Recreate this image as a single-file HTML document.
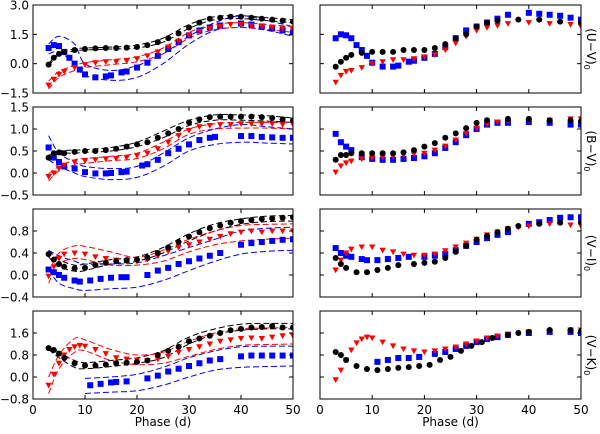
<!DOCTYPE html>
<html><head><meta charset="utf-8"><style>
body{margin:0;background:#fff;width:600px;height:429px;overflow:hidden}
svg text{font-family:"DejaVu Sans","Liberation Sans",sans-serif;font-size:12px;fill:#000}
</style></head><body>
<svg id="fig" width="600" height="429" xmlns="http://www.w3.org/2000/svg"></svg>
<script>
// ---- data ----
const panelNames = ["u-v", "b-v", "v-i", "v-k"];
const yRanges = [[-1.5,3.0],[-0.5,1.5],[-0.4,1.2],[-0.8,2.4]];
const yTicks = [[-1.5,0,1.5,3.0],[-0.5,0,0.5,1.0,1.5],[-0.4,0,0.4,0.8,1.2],[-0.8,0,0.8,1.6,2.4]];
const yTickLabels = [["−1.5","0.0","1.5","3.0"],["−0.5","0.0","0.5","1.0","1.5"],["−0.4","0.0","0.4","0.8",""],["−0.8","0.0","0.8","1.6",""]];
const xTicks = [0,10,20,30,40,50];
const rightLabels = ["(U−V)","(B−V)","(V−I)","(V−K)"];

// left panels: [phase, value]
const L_black = [
 [[3,-0.05],[4,0.3],[5,0.5],[6,0.6],[8,0.7],[10,0.75],[12,0.78],[14,0.8],[16,0.8],[18,0.82],[20,0.85],[22,0.95],[24,1.1],[26,1.3],[28,1.55],[30,1.85],[32,2.1],[34,2.3],[36,2.35],[38,2.4],[40,2.4],[42,2.35],[44,2.3],[46,2.25],[48,2.2],[50,2.15]],
 [[3,0.35],[4,0.45],[5,0.47],[6,0.45],[8,0.48],[10,0.5],[12,0.5],[14,0.52],[16,0.55],[18,0.6],[20,0.65],[22,0.7],[24,0.8],[26,0.9],[28,1.0],[30,1.15],[32,1.22],[34,1.27],[36,1.28],[38,1.28],[40,1.28],[42,1.28],[44,1.27],[46,1.25],[48,1.22],[50,1.2]],
 [[3,0.38],[4,0.28],[5,0.2],[6,0.15],[8,0.12],[10,0.13],[12,0.18],[14,0.22],[16,0.25],[18,0.27],[20,0.28],[22,0.32],[24,0.4],[26,0.5],[28,0.6],[30,0.7],[32,0.78],[34,0.85],[36,0.9],[38,0.95],[40,0.98],[42,1.0],[44,1.02],[46,1.03],[48,1.04],[50,1.05]],
 [[3,1.05],[4,0.98],[5,0.85],[6,0.7],[8,0.5],[10,0.42],[12,0.42],[14,0.45],[16,0.5],[18,0.52],[20,0.55],[22,0.6],[24,0.8],[26,0.95],[28,1.1],[30,1.3],[32,1.4],[34,1.5],[36,1.6],[38,1.7],[40,1.75],[42,1.8],[44,1.82],[46,1.85],[48,1.8],[50,1.8]]
];
const L_blue = [
 [[3,0.8],[4,0.95],[5,0.9],[6,0.6],[7,0.3],[8,0.0],[9,-0.3],[10,-0.55],[12,-0.7],[14,-0.65],[15,-0.6],[17,-0.45],[18,-0.4],[20,-0.2],[22,0.05],[24,0.4],[26,0.75],[28,1.1],[30,1.45],[32,1.7],[34,1.85],[36,1.95],[40,2.05],[42,2.0],[44,1.9],[46,1.8],[48,1.7],[50,1.6]],
 [[3,0.58],[4,0.35],[5,0.25],[6,0.15],[8,0.1],[10,0.02],[12,-0.01],[14,-0.01],[15,0.0],[17,0.02],[18,0.03],[21,0.17],[22,0.2],[24,0.3],[26,0.45],[28,0.55],[30,0.65],[32,0.75],[34,0.8],[35,0.82],[40,0.84],[42,0.84],[44,0.82],[46,0.81],[48,0.8],[50,0.8]],
 [[3,0.1],[4,0.05],[5,0.0],[6,-0.05],[8,-0.1],[9,-0.12],[11,-0.1],[13,-0.07],[15,-0.05],[17,-0.04],[18,-0.04],[22,0.0],[24,0.08],[26,0.13],[28,0.2],[30,0.25],[32,0.3],[34,0.35],[36,0.4],[40,0.55],[42,0.58],[44,0.6],[46,0.62],[48,0.64],[50,0.65]],
 [[11,-0.3],[13,-0.25],[15,-0.2],[16,-0.18],[18,-0.16],[22,-0.05],[24,0.05],[26,0.2],[28,0.3],[30,0.4],[32,0.5],[34,0.6],[36,0.65],[40,0.75],[42,0.78],[44,0.78],[46,0.78],[48,0.78],[50,0.78]]
];
const L_red = [
 [[3,-1.1],[4,-0.8],[5,-0.55],[6,-0.4],[8,-0.2],[10,-0.05],[12,0.05],[14,0.1],[16,0.1],[18,0.15],[20,0.25],[22,0.4],[24,0.6],[26,0.85],[28,1.15],[30,1.45],[32,1.65],[34,1.8],[36,1.9],[38,2.0],[40,2.0],[42,1.95],[44,1.9],[46,1.85],[48,1.8],[50,1.75]],
 [[3,-0.08],[4,0.0],[5,0.1],[6,0.18],[8,0.25],[10,0.28],[12,0.3],[14,0.32],[16,0.33],[18,0.35],[20,0.4],[22,0.45],[24,0.55],[26,0.7],[28,0.85],[30,0.97],[32,1.05],[34,1.08],[36,1.1],[38,1.1],[40,1.12],[42,1.12],[44,1.12],[46,1.12],[48,1.1],[50,1.1]],
 [[3,-0.02],[4,0.15],[5,0.3],[6,0.38],[8,0.4],[10,0.38],[12,0.33],[14,0.3],[16,0.27],[18,0.25],[20,0.25],[22,0.28],[24,0.35],[26,0.43],[28,0.5],[30,0.55],[32,0.6],[34,0.65],[36,0.7],[38,0.75],[40,0.78],[42,0.8],[44,0.78],[46,0.8],[48,0.8],[50,0.8]],
 [[3,-0.3],[4,0.1],[5,0.5],[6,0.8],[7,1.0],[8,1.1],[9,1.15],[10,1.12],[12,1.0],[14,0.85],[16,0.7],[18,0.65],[20,0.62],[22,0.6],[24,0.65],[26,0.75],[28,0.9],[30,1.0],[32,1.1],[34,1.2],[36,1.3],[38,1.35],[40,1.4],[42,1.42],[44,1.4],[46,1.45],[48,1.5],[50,1.5]]
];
// right panels
const R_black = [
 [[3,-0.16],[4,0.1],[5,0.3],[6,0.45],[8,0.55],[10,0.6],[12,0.6],[14,0.6],[16,0.7],[18,0.7],[20,0.7],[22,0.8],[24,1.0],[26,1.3],[28,1.5],[30,1.9],[32,2.1],[34,2.2],[38,2.25],[42,2.25],[46,2.15],[50,2.1]],
 [[3,0.3],[4,0.41],[5,0.41],[6,0.45],[8,0.45],[10,0.45],[12,0.45],[14,0.45],[16,0.47],[18,0.52],[20,0.6],[22,0.68],[24,0.8],[26,0.9],[28,1.02],[30,1.14],[32,1.2],[36,1.23],[40,1.23],[44,1.2],[48,1.2],[50,1.18]],
 [[3,0.31],[4,0.2],[5,0.13],[7,0.05],[9,0.05],[11,0.09],[13,0.13],[15,0.18],[18,0.2],[20,0.22],[22,0.24],[24,0.31],[26,0.42],[28,0.53],[30,0.64],[32,0.71],[34,0.78],[36,0.84],[38,0.89],[42,0.93],[46,0.95],[50,0.96]],
 [[3,0.91],[4,0.8],[5,0.62],[7,0.4],[9,0.29],[11,0.25],[13,0.29],[15,0.33],[17,0.36],[19,0.4],[21,0.44],[23,0.62],[25,0.73],[27,0.95],[29,1.13],[31,1.27],[33,1.42],[36,1.53],[38,1.6],[40,1.64],[44,1.71],[48,1.71],[50,1.67]]
];
const R_blue = [
 [[3,1.3],[4,1.5],[5,1.45],[6,1.3],[7,0.95],[8,0.7],[9,0.4],[10,0.05],[12,-0.15],[14,-0.15],[15,-0.1],[17,0.1],[18,0.15],[20,0.3],[22,0.5],[24,0.85],[26,1.3],[28,1.7],[30,1.9],[32,2.1],[34,2.3],[36,2.5],[40,2.6],[42,2.55],[44,2.5],[46,2.45],[48,2.35],[50,2.25]],
 [[3,0.89],[4,0.7],[5,0.6],[6,0.52],[8,0.36],[10,0.32],[12,0.3],[14,0.3],[16,0.32],[18,0.34],[20,0.38],[22,0.45],[24,0.57],[26,0.7],[28,0.86],[30,1.0],[32,1.1],[34,1.14],[36,1.14],[40,1.16],[44,1.14],[48,1.1],[50,1.1]],
 [[3,0.49],[4,0.4],[5,0.35],[6,0.33],[8,0.29],[9,0.27],[11,0.27],[13,0.29],[15,0.31],[17,0.33],[20,0.33],[22,0.35],[24,0.38],[26,0.45],[28,0.53],[30,0.6],[32,0.67],[34,0.73],[36,0.78],[40,0.93],[42,0.96],[44,1.0],[46,1.04],[48,1.05],[50,1.05]],
 [[11,0.55],[13,0.62],[15,0.69],[17,0.69],[19,0.73],[22,0.84],[24,0.91],[26,1.02],[28,1.13],[30,1.27],[32,1.38],[34,1.45],[36,1.53],[40,1.6],[44,1.64],[48,1.64],[50,1.6]]
];
const R_red = [
 [[3,-0.95],[4,-0.6],[5,-0.4],[6,-0.35],[8,-0.2],[10,0.0],[12,0.1],[14,0.2],[16,0.2],[18,0.25],[20,0.35],[22,0.45],[24,0.7],[26,1.05],[28,1.4],[30,1.7],[32,1.85],[34,1.95],[36,2.05],[40,2.1],[44,2.05],[48,2.0],[50,1.9]],
 [[3,0.02],[4,0.16],[5,0.23],[6,0.27],[8,0.32],[10,0.34],[12,0.36],[14,0.38],[16,0.41],[18,0.43],[20,0.45],[22,0.52],[24,0.61],[26,0.75],[28,0.9],[30,1.02],[32,1.11],[34,1.16],[36,1.18],[40,1.2],[44,1.2],[48,1.23],[50,1.23]],
 [[3,0.09],[4,0.27],[5,0.4],[6,0.47],[8,0.51],[10,0.51],[12,0.45],[14,0.42],[16,0.38],[18,0.36],[20,0.36],[22,0.38],[24,0.44],[26,0.51],[28,0.58],[30,0.65],[32,0.73],[34,0.78],[36,0.84],[38,0.87],[40,0.89],[44,0.93],[48,0.91],[50,0.89]],
 [[3,-0.1],[4,0.25],[5,0.62],[6,0.98],[7,1.24],[8,1.38],[9,1.45],[10,1.42],[12,1.27],[14,1.13],[16,1.02],[18,0.95],[20,0.91],[22,0.95],[24,1.02],[26,1.09],[28,1.2],[30,1.31],[32,1.42],[34,1.49],[36,1.56],[40,1.64],[44,1.67],[48,1.71],[50,1.71]]
];
// envelope curves (left panels)
const envPhase = [3,5,8,10,15,20,25,30,35,40,45,50];
const envBlueU = [[1.0,1.4,1.0,0.0,-0.35,-0.1,0.5,1.4,2.1,2.45,2.2,1.9],[0.85,0.45,0.25,0.15,0.1,0.15,0.45,0.8,1.0,1.1,1.05,1.0],[0.45,0.35,0.25,0.2,0.2,0.22,0.35,0.5,0.65,0.8,0.85,0.87],[null,null,null,-0.05,0.0,0.1,0.35,0.7,0.95,1.1,1.12,1.12]];
const envBlueL = [[0.5,0.6,0.0,-0.6,-0.85,-0.7,0.0,1.0,1.7,1.85,1.7,1.4],[0.3,0.15,0.0,-0.08,-0.15,-0.1,0.15,0.5,0.65,0.7,0.68,0.66],[0.1,-0.15,-0.25,-0.28,-0.25,-0.22,-0.1,0.08,0.25,0.38,0.43,0.45],[null,null,null,-0.6,-0.55,-0.5,-0.3,0.0,0.25,0.35,0.38,0.4]];
const envRedU = [[-0.9,-0.4,-0.1,0.05,0.2,0.35,0.8,1.6,2.0,2.1,2.0,1.9],[-0.02,0.15,0.3,0.33,0.38,0.45,0.7,1.0,1.12,1.15,1.15,1.15],[0.05,0.4,0.53,0.52,0.42,0.32,0.45,0.65,0.8,0.9,0.92,0.93],[0.0,0.8,1.4,1.35,1.0,0.8,0.9,1.3,1.6,1.75,1.78,1.8]];
const envRedL = [[-1.3,-0.7,-0.35,-0.2,-0.05,0.1,0.5,1.3,1.75,1.85,1.75,1.6],[-0.18,0.05,0.18,0.22,0.28,0.33,0.55,0.88,1.0,1.02,1.02,1.0],[-0.15,0.2,0.3,0.28,0.18,0.18,0.25,0.42,0.55,0.62,0.65,0.67],[-0.6,0.3,0.9,0.95,0.6,0.45,0.5,0.75,1.0,1.15,1.18,1.2]];
const envBlackU = [[0.0,0.55,0.75,0.8,0.85,0.95,1.3,2.0,2.4,2.45,2.35,2.25],[0.4,0.5,0.52,0.53,0.58,0.7,0.95,1.2,1.32,1.32,1.3,1.25],[0.45,0.28,0.18,0.2,0.28,0.33,0.5,0.75,0.93,1.02,1.07,1.08],[1.1,0.9,0.6,0.52,0.6,0.7,0.95,1.45,1.75,1.92,1.95,1.95]];
const envBlackL = [[-0.1,0.45,0.65,0.7,0.75,0.8,1.1,1.8,2.25,2.3,2.2,2.1],[0.3,0.44,0.45,0.47,0.5,0.6,0.8,1.08,1.2,1.2,1.18,1.15],[0.33,0.15,0.07,0.08,0.2,0.25,0.4,0.62,0.8,0.92,0.97,0.98],[1.0,0.7,0.35,0.3,0.38,0.5,0.7,1.2,1.55,1.7,1.75,1.75]];

// ---- drawing ----
const NS="http://www.w3.org/2000/svg";
const svg=document.getElementById('fig');
function mk(tag,attrs,parent){const e=document.createElementNS(NS,tag);for(const k in attrs)e.setAttribute(k,attrs[k]);(parent||svg).appendChild(e);return e;}
const cols=[[33,293],[320,581]];
const rowTop=[5,107,209,311], rowH=88;
function xs(c,p){return cols[c][0]+(p/50)*(cols[c][1]-cols[c][0]);}
function ys(r,v){const [a,b]=yRanges[r];return rowTop[r]+rowH-(v-a)/(b-a)*rowH;}
function smooth(pts){let d="M"+pts[0][0]+","+pts[0][1];for(let i=0;i<pts.length-1;i++){const p0=pts[Math.max(0,i-1)],p1=pts[i],p2=pts[i+1],p3=pts[Math.min(pts.length-1,i+2)];
 const c1=[p1[0]+(p2[0]-p0[0])/6,p1[1]+(p2[1]-p0[1])/6],c2=[p2[0]-(p3[0]-p1[0])/6,p2[1]-(p3[1]-p1[1])/6];d+=" C"+c1+" "+c2+" "+p2;}return d;}

for(let r=0;r<4;r++){
 for(let c=0;c<2;c++){
  const g=mk('g',{});
  
  
  const clipId='clip'+r+c;
  const cp=mk('clipPath',{id:clipId},g);mk('rect',{x:cols[c][0],y:rowTop[r],width:cols[c][1]-cols[c][0],height:rowH},cp);
  const plot=mk('g',{'clip-path':'url(#'+clipId+')'},g);
  if(c===0){
   const envs=[[envBlackU,'#000'],[envBlackL,'#000'],[envBlueU,'#0000ff'],[envBlueL,'#0000ff'],[envRedU,'#ff0000'],[envRedL,'#ff0000']];
   envs.forEach(([arr,col],k)=>{
    const pts=[];arr[r].forEach((v,i)=>{if(v!==null)pts.push([xs(0,envPhase[i]),ys(r,v)]);});
    const pth=mk('path',{d:smooth(pts),fill:'none',stroke:col,'stroke-width':1,'stroke-dasharray':'6,3'},plot);
    
    
   });
  }
  const B=c?R_blue:L_blue, K=c?R_black:L_black, Rd=c?R_red:L_red;
  B[r].forEach(([p,v])=>{const e=mk('rect',{x:xs(c,p)-3,y:ys(r,v)-3,width:6,height:6,fill:'#0000ff'},plot);
   
   });
  Rd[r].forEach(([p,v])=>{const x=xs(c,p),y=ys(r,v);const e=mk('polygon',{points:(x-3.2)+','+(y-2.5)+' '+(x+3.2)+','+(y-2.5)+' '+x+','+(y+3.2),fill:'#ff0000'},plot);
   
   });
  K[r].forEach(([p,v])=>{const e=mk('circle',{cx:xs(c,p),cy:ys(r,v),r:3,fill:'#000'},plot);
   
   });
  // frame
  const fr=mk('rect',{x:cols[c][0],y:rowTop[r],width:cols[c][1]-cols[c][0],height:rowH,fill:'none',stroke:'#000','stroke-width':1},g);
  
  
  // x ticks
  xTicks.forEach(t=>{const x=xs(c,t);
   mk('line',{x1:x,x2:x,y1:rowTop[r],y2:rowTop[r]+4,stroke:'#000'},g);
   mk('line',{x1:x,x2:x,y1:rowTop[r]+rowH,y2:rowTop[r]+rowH-4,stroke:'#000'},g);
   if(r===3){const tx=mk('text',{x:x,y:414,'text-anchor':'middle'},g);tx.textContent=t;
    
    }
  });
  yTicks[r].forEach((t,i)=>{const y=ys(r,t);
   mk('line',{x1:cols[c][0],x2:cols[c][0]+4,y1:y,y2:y,stroke:'#000'},g);
   mk('line',{x1:cols[c][1],x2:cols[c][1]-4,y1:y,y2:y,stroke:'#000'},g);
   if(c===0&&yTickLabels[r][i]){const tx=mk('text',{x:29,y:y+4.5,'text-anchor':'end'},g);tx.textContent=yTickLabels[r][i];
    
    }
  });
  if(r===3){const xl=mk('text',{x:(cols[c][0]+cols[c][1])/2,y:426,'text-anchor':'middle'},g);xl.textContent='Phase (d)';
   
   }
  if(c===1){const cy=rowTop[r]+rowH/2;
   const yl=mk('text',{x:0,y:0,'text-anchor':'middle',transform:'translate(587,'+cy+') rotate(90)'},g);
   yl.textContent=rightLabels[r];
   const sub=mk('tspan',{'font-size':'8','dy':'3'},yl);sub.textContent='0';
   
   }
 }
}
</script>
</body></html>
